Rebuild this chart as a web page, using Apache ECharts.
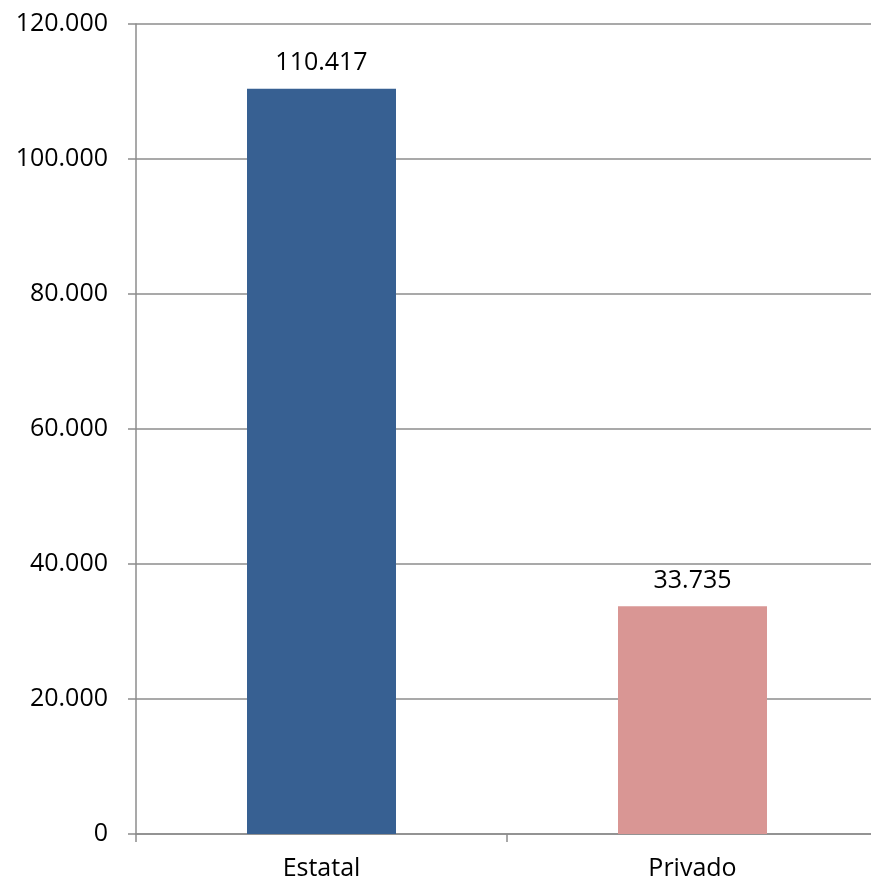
<!DOCTYPE html>
<html><head><meta charset="utf-8">
<script src="https://cdn.jsdelivr.net/npm/echarts@6/dist/echarts.min.js"></script>
<style>html,body{margin:0;padding:0;background:#fff}#c{width:871px;height:884px}</style>
</head><body><div id="c"></div>
<script>
const categories = ['Estatal', 'Privado'];
const values = [110417, 33735];
const barColors = ['#376092', '#D99694'];
const fmt = v => String(v).replace(/\B(?=(\d{3})+(?!\d))/g, '.');
const chart = echarts.init(document.getElementById('c'));
chart.setOption({
  animation: false,
  grid: { left: 136, top: 24, width: 742, height: 810, outerBoundsMode: 'none', containLabel: false },
  xAxis: {
    type: 'category', data: categories,
    axisLine: { lineStyle: { color: '#8c8c8c', width: 1.5 } },
    axisTick: { show: true, length: 8, lineStyle: { color: '#8c8c8c', width: 1.5 } },
    axisLabel: { color: '#000', fontSize: 25, fontFamily: 'Open Sans', margin: 22 }
  },
  yAxis: {
    type: 'value', min: 0, max: 120000, interval: 20000,
    axisLine: { show: true, lineStyle: { color: '#8c8c8c', width: 1.5 } },
    axisTick: { show: true, length: 8, lineStyle: { color: '#8c8c8c', width: 1.5 } },
    splitLine: { lineStyle: { color: '#8c8c8c', width: 1.5 } },
    axisLabel: { color: '#000', fontSize: 25, fontFamily: 'Open Sans', margin: 28, formatter: fmt }
  },
  series: [{
    type: 'bar', barWidth: 149,
    data: values.map((v, i) => ({ value: v, itemStyle: { color: barColors[i] } })),
    label: { show: true, position: 'top', distance: 13, color: '#000', fontSize: 25, fontFamily: 'Open Sans', formatter: p => fmt(p.value) }
  }]
});
</script></body></html>
